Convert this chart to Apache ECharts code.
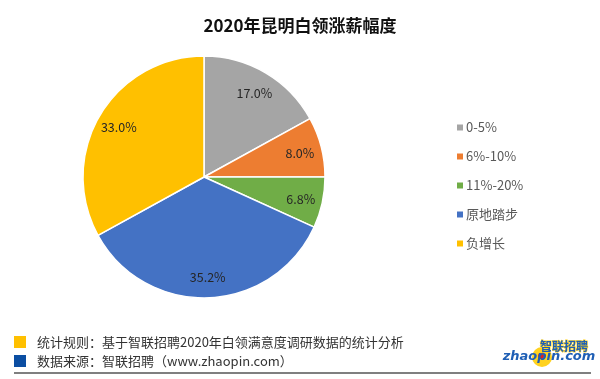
<!DOCTYPE html>
<html><head><meta charset="utf-8">
<script src="https://cdn.jsdelivr.net/npm/echarts@6/dist/echarts.min.js"></script>
<style>html,body{margin:0;padding:0;background:#fff}#c{width:600px;height:379px}</style>
</head><body><div id="c"></div>
<script>
var title = '2020年昆明白领涨薪幅度';
var categories = ['0-5%', '6%-10%', '11%-20%', '原地踏步', '负增长'];
var values = [17.0, 8.0, 6.8, 35.2, 33.0];
var colors = ['#A5A5A5', '#ED7D31', '#70AD47', '#4472C4', '#FFC000'];
var noteLines = ['统计规则：基于智联招聘2020年白领满意度调研数据的统计分析', '数据来源：智联招聘（www.zhaopin.com）'];

var FONT = '"Noto Sans CJK SC", "Noto Sans", sans-serif';
var data = categories.map(function (c, i) { return { name: c, value: values[i], itemStyle: { color: colors[i] } }; });
var chart = echarts.init(document.getElementById('c'), null, { renderer: 'canvas' });
chart.setOption({
  animation: false,
  backgroundColor: '#fff',
  title: { text: title, left: 'center', top: 12, textStyle: { fontFamily: FONT, fontSize: 17, fontWeight: 'bold', color: '#111' } },
  legend: {
    orient: 'vertical', left: 450, top: 116, itemGap: 16, itemWidth: 8, itemHeight: 8, icon: 'rect',
    data: categories,
    textStyle: { fontFamily: FONT, fontSize: 13, color: '#595959', padding: [0, 0, 0, -3] }
  },
  series: [
    {
      type: 'pie', center: [204, 177], radius: [0, 121], startAngle: 90, clockwise: true,
      data: data, label: { show: false }, labelLine: { show: false },
      itemStyle: { borderColor: '#fff', borderWidth: 1.5 }, silent: true
    },
    {
      type: 'pie', center: [204, 178], radius: [71, 121], startAngle: 90, clockwise: true,
      data: data.map(function (d) { return { name: d.name, value: d.value, itemStyle: { color: 'rgba(0,0,0,0)' } }; }),
      itemStyle: { color: 'rgba(0,0,0,0)', borderWidth: 0 }, silent: true,
      label: { show: true, position: 'inside', formatter: function (p) { return p.value.toFixed(1) + '%'; }, fontFamily: FONT, fontSize: 12.5, color: '#262626' },
      labelLine: { show: false }
    }
  ],
  graphic: [
    { type: 'rect', shape: { x: 14, y: 336, width: 12, height: 12 }, style: { fill: '#FFC000' } },
    { type: 'rect', shape: { x: 14, y: 355, width: 12, height: 12 }, style: { fill: '#0B4EA2' } },
    { type: 'text', x: 37, y: 342, style: { text: noteLines[0], font: '13px ' + FONT, fill: '#333', textVerticalAlign: 'middle' } },
    { type: 'text', x: 37, y: 361, style: { text: noteLines[1], font: '13px ' + FONT, fill: '#333', textVerticalAlign: 'middle' } },
    { type: 'line', shape: { x1: 14, y1: 373, x2: 591, y2: 373 }, style: { stroke: '#7F7F7F', lineWidth: 2 } },
    { type: 'circle', shape: { cx: 542, cy: 357, r: 10 }, style: { fill: '#FFD21F' } },
    { type: 'circle', shape: { cx: 541, cy: 356, r: 3 }, style: { fill: '#E2231A' } },
    { type: 'text', x: 564, y: 346, style: { text: '智联招聘', font: 'bold 12px ' + FONT, fill: '#1F5FB5', stroke: '#FFD21F', lineWidth: 1, textAlign: 'center', textVerticalAlign: 'middle' } },
    { type: 'text', x: 549, y: 357, style: { text: 'zhaopin.com', font: 'bold italic 13px "DejaVu Sans", sans-serif', fill: '#1F5FB5', textAlign: 'center', textVerticalAlign: 'middle' } }
  ]
});
</script></body></html>
